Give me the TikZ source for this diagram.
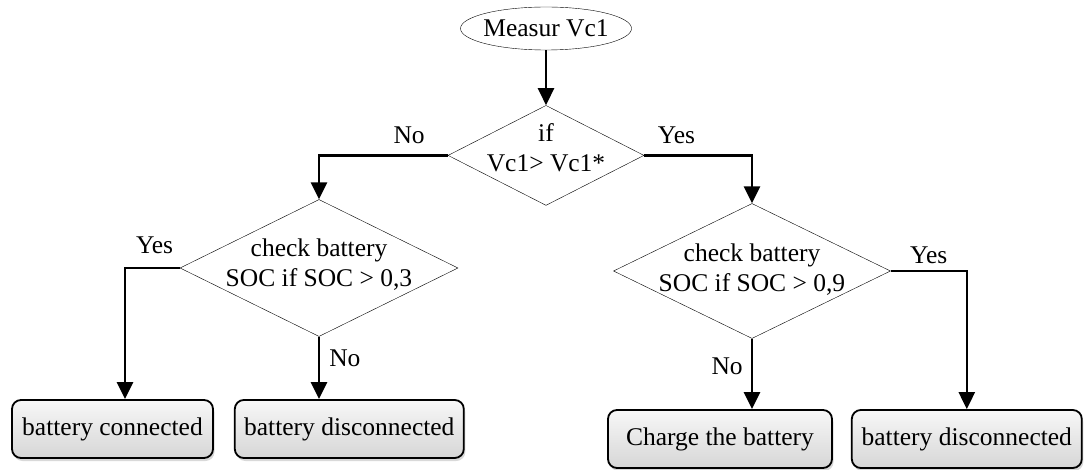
\documentclass[tikz,border=0pt]{standalone}
\usepackage{fontspec}
\setmainfont{Liberation Serif}
\usetikzlibrary{positioning, arrows.meta, shapes.geometric, shadows}

\begin{document}
\begin{tikzpicture}[
  x=1pt, y=-1pt,
  >={Triangle[length=17pt, width=16pt]},
  font=\fontsize{25.5}{30}\selectfont,
  startB/.style={ellipse, draw, thin, inner xsep=-3pt, inner ysep=0pt, minimum width=171pt, minimum height=43pt},
  decB/.style={diamond, draw, thin, inner sep=0pt},
  dtext/.style={align=center, inner sep=0pt},
  endB/.style={draw, line width=1.8pt, rounded corners=9pt, minimum height=58pt, inner sep=0pt, top color=gray!6, bottom color=gray!32, drop shadow={shadow xshift=1.5pt, shadow yshift=-3pt, opacity=0.3}},
  arr/.style={->, line width=2.6pt},
  lbl/.style={inner sep=0pt}
]
\useasboundingbox (0,0) rectangle (1092,470);

\node[startB] (m) at (546,28.5) {Measur Vc1};
\node[decB, below=55pt of m, minimum width=196pt, minimum height=100pt,
  label={[dtext, yshift=8pt]center:if\\Vc1> Vc1*}] (d1) {};
\node[decB, minimum width=278pt, minimum height=137pt,
  label={[dtext, yshift=3pt]center:check battery\\SOC if SOC > 0,3}] (d2) at (319,268) {};
\node[decB, minimum width=277pt, minimum height=135pt,
  label={[dtext, yshift=1pt]center:check battery\\SOC if SOC > 0,9}] (d3) at (752,271) {};

\node[endB, minimum width=201pt] (b1) at (112.5,429) {battery connected};
\node[endB, minimum width=229pt, right=20pt of b1] (b2) {battery disconnected};
\node[endB, minimum width=224pt] (b3) at (720,439) {Charge the battery};
\node[endB, minimum width=230pt, right=18pt of b3] (b4) {battery disconnected};

\draw[arr] (m) -- (d1);
\draw[arr] (d1.west) -| node[lbl, above=10pt, pos=0.15] {No} (d2.north);
\draw[arr] (d1.east) -| node[lbl, above=10pt, pos=0.15] {Yes} (d3.north);
\draw[arr] (d2.west) -| node[lbl, above=13pt, pos=0.23] {Yes} ([xshift=12.5pt]b1.north);
\draw[arr] (d2.south) -- node[lbl, right=9pt, pos=0.35] {No} (d2.south |- b2.north);
\draw[arr] (d3.south) -- node[lbl, left=8pt, pos=0.39] {No} (d3.south |- b3.north);
\draw[arr] (d3.east) -| node[lbl, above=6pt, pos=0.25] {Yes} (b4.north);
\end{tikzpicture}
\end{document}
